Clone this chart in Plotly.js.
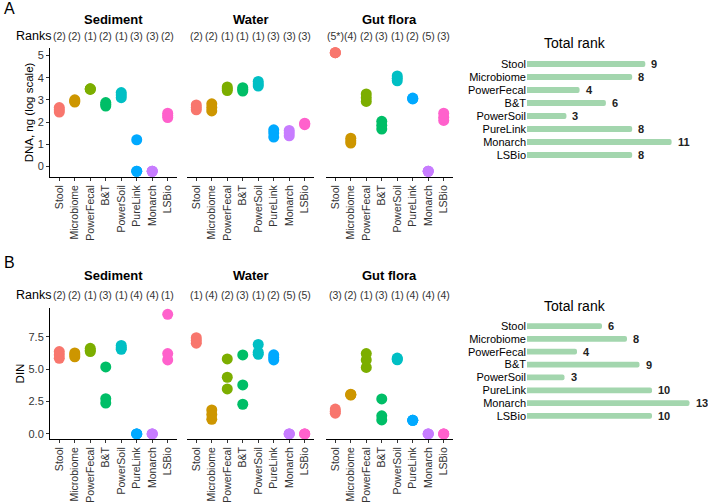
<!DOCTYPE html>
<html><head><meta charset="utf-8">
<script src="https://cdn.plot.ly/plotly-3.0.1.min.js"></script>
<style>html,body{margin:0;padding:0;background:#fff}</style>
</head><body><div id="chart" style="width:708px;height:502px"></div>
<script>
const methods = ['Stool','Microbiome','PowerFecal','B&T','PowerSoil','PureLink','Monarch','LSBio'];
const palette = ['#F8766D','#CD9600','#7CAE00','#00BE67','#00BFC4','#00A9FF','#C77CFF','#FF61CC'];
const environments = ['Sediment','Water','Gut flora'];

// Panel A: DNA, ng (log scale) — replicate values per method
const dnaSediment = [[2.45,2.55,2.65],[2.9,2.95,3.0],[3.47,3.5,3.5],[2.72,2.8,2.88],[3.1,3.22,3.33],[1.2,-0.22,-0.22],[-0.22,-0.22,-0.22],[2.2,2.3,2.4]];
const dnaWater    = [[2.55,2.65,2.77],[2.5,2.65,2.82],[3.42,3.5,3.58],[3.4,3.48,3.55],[3.62,3.72,3.83],[1.32,1.5,1.65],[1.38,1.5,1.62],[1.88,1.92,1.95]];
const dnaGut      = [[5.13,5.13,5.13],[1.05,1.15,1.27],[2.93,3.1,3.27],[1.68,1.85,2.03],[3.86,3.97,4.08],[3.04,3.06,3.08],[-0.22,-0.22,-0.22],[2.07,2.22,2.4]];

// Panel B: DIN
const dinSediment = [[5.83,6.1,6.35],[5.95,6.1,6.25],[6.35,6.45,6.6],[2.38,2.72,5.17],[6.53,6.65,6.82],[0,0,0],[0,0,0],[5.71,6.2,9.22]];
const dinWater    = [[7.0,7.2,7.42],[1.13,1.5,1.85],[3.47,4.37,5.78],[2.29,3.78,6.09],[6.14,6.3,6.9],[5.71,5.9,6.1],[0,0,0],[0,0,0]];
const dinGut      = [[1.6,1.75,1.92],[3.0,3.03,3.06],[5.13,5.7,6.2],[1.08,1.4,2.7],[5.72,5.78,5.85],[1.05,1.05,1.05],[0,0,0],[0,0,0]];

const ranksDnaSediment = ['(2)','(2)','(1)','(2)','(1)','(3)','(3)','(2)'];
const ranksDnaWater    = ['(2)','(2)','(1)','(1)','(1)','(3)','(3)','(3)'];
const ranksDnaGut      = ['(5*)','(4)','(2)','(3)','(1)','(2)','(5)','(3)'];
const ranksDinSediment = ['(2)','(2)','(1)','(3)','(1)','(4)','(4)','(1)'];
const ranksDinWater    = ['(1)','(4)','(2)','(3)','(1)','(2)','(5)','(5)'];
const ranksDinGut      = ['(3)','(2)','(1)','(3)','(1)','(4)','(4)','(4)'];

const totalRankDna = [9,8,4,6,3,8,11,8];
const totalRankDin = [6,8,4,9,3,10,13,10];

const yTicksDna = [0,1,2,3,4,5];
const yTicksDin = [0,2.5,5,7.5];
const yTickTextDin = ['0.0','2.5','5.0','7.5'];

// ---------- layout helpers ----------
const W = 708, H = 502;
const px = v => v / W;
const py = v => 1 - v / H;
const FONT = 'Liberation Sans, Arial, Helvetica, sans-serif';
const TXT = '#333333';

const panelX = [[50,177],[187,314],[326,453]];
const rows = [
  {tag:'A', tagY:9, titleY:20, rankY:36, dom:[48,177], range:[-0.48,5.34],
   data:[dnaSediment,dnaWater,dnaGut], ranks:[ranksDnaSediment,ranksDnaWater,ranksDnaGut],
   ytitle:'DNA, ng (log scale)', tickvals:yTicksDna, ticktext:yTicksDna.map(String),
   total:totalRankDna, barDom:[57.5,161.5], barRange:[0,13.16], totalTitleY:43},
  {tag:'B', tagY:262, titleY:275, rankY:295, dom:[308,439], range:[-0.39,9.71],
   data:[dinSediment,dinWater,dinGut], ranks:[ranksDinSediment,ranksDinWater,ranksDinGut],
   ytitle:'DIN', tickvals:yTicksDin, ticktext:yTickTextDin,
   total:totalRankDin, barDom:[319.6,422.4], barRange:[0,13.84], totalTitleY:306}
];

const traces = [];
const layout = {
  width: W, height: H,
  margin: {l:0, r:0, t:0, b:0},
  paper_bgcolor: '#fff', plot_bgcolor: '#fff',
  showlegend: false,
  font: {family: FONT, size: 11, color: TXT},
  annotations: []
};

let axisN = 0;
rows.forEach((row, r) => {
  for (let p = 0; p < 3; p++) {
    axisN++;
    const xk = 'xaxis' + (axisN === 1 ? '' : axisN);
    const yk = 'yaxis' + (axisN === 1 ? '' : axisN);
    const xr = 'x' + (axisN === 1 ? '' : axisN);
    const yr = 'y' + (axisN === 1 ? '' : axisN);
    layout[xk] = {
      domain: [px(panelX[p][0]), px(panelX[p][1])],
      range: [-0.6, 7.6], anchor: yr,
      tickmode: 'array', tickvals: methods.map((m,i)=>i), ticktext: methods,
      tickangle: -90, ticks: 'outside', ticklen: 3, tickcolor: '#333',
      showline: true, linecolor: '#000', linewidth: 1,
      showgrid: false, zeroline: false, fixedrange: true,
      tickfont: {family: FONT, size: 10.5, color: TXT}
    };
    const ya = {
      domain: [py(row.dom[1]), py(row.dom[0])],
      range: row.range, anchor: xr,
      showgrid: false, zeroline: false, fixedrange: true
    };
    if (p === 0) {
      Object.assign(ya, {
        tickmode: 'array', tickvals: row.tickvals, ticktext: row.ticktext,
        ticks: 'outside', ticklen: 3, tickcolor: '#333',
        showline: true, linecolor: '#000', linewidth: 1,
        tickfont: {family: FONT, size: 11, color: TXT},
        title: {text: row.ytitle, font: {family: FONT, size: 11.5, color: '#000'}, standoff: 1}
      });
    } else {
      Object.assign(ya, {visible: false});
    }
    layout[yk] = ya;

    // points
    row.data[p].forEach((vals, i) => {
      traces.push({
        type: 'scatter', mode: 'markers', xaxis: xr, yaxis: yr,
        x: vals.map(() => i), y: vals,
        marker: {color: palette[i], size: 11, line: {width: 0}},
        cliponaxis: false, hoverinfo: 'skip'
      });
    });

    // panel title
    layout.annotations.push({
      xref: xr, yref: 'paper', x: 3.5, y: py(row.titleY),
      text: '<b>' + environments[p] + '</b>', showarrow: false,
      xanchor: 'center', yanchor: 'middle',
      font: {family: FONT, size: 13, color: '#000'}
    });
    // ranks
    row.ranks[p].forEach((t, i) => {
      layout.annotations.push({
        xref: xr, yref: 'paper', x: i, y: py(row.rankY),
        text: t, showarrow: false, xanchor: 'center', yanchor: 'middle',
        font: {family: FONT, size: 10.5, color: TXT}
      });
    });
  }
  // "Ranks" label and tag
  layout.annotations.push({
    xref: 'paper', yref: 'paper', x: px(14), y: py(row.rankY),
    text: 'Ranks', showarrow: false, xanchor: 'left', yanchor: 'middle',
    font: {family: FONT, size: 12.5, color: '#000'}
  });
  layout.annotations.push({
    xref: 'paper', yref: 'paper', x: px(2), y: py(row.tagY),
    text: row.tag, showarrow: false, xanchor: 'left', yanchor: 'middle',
    font: {family: FONT, size: 16, color: '#000'}
  });

  // total rank bars
  axisN++;
  const xk = 'xaxis' + axisN, yk = 'yaxis' + axisN;
  const xr = 'x' + axisN, yr = 'y' + axisN;
  layout[xk] = {
    domain: [px(527), px(700)], range: row.barRange, anchor: yr,
    visible: false, fixedrange: true
  };
  layout[yk] = {
    domain: [py(row.barDom[1]), py(row.barDom[0])], range: [7.5, -0.5], anchor: xr,
    tickmode: 'array', tickvals: methods.map((m,i)=>i), ticktext: methods,
    ticks: '', showline: false, showgrid: false, zeroline: false, fixedrange: true,
    tickfont: {family: FONT, size: 11, color: '#000'}
  };
  traces.push({
    type: 'bar', orientation: 'h', xaxis: xr, yaxis: yr,
    x: row.total, y: methods.map((m,i)=>i), width: 0.45,
    marker: {color: '#a3d6ae', cornerradius: 3, line: {width: 0}},
    hoverinfo: 'skip'
  });
  row.total.forEach((v, i) => {
    layout.annotations.push({
      xref: xr, yref: yr, x: v, y: i, text: '<b>' + v + '</b>',
      showarrow: false, xanchor: 'left', yanchor: 'middle', xshift: 4,
      font: {family: FONT, size: 11, color: '#222'}
    });
  });
  layout.annotations.push({
    xref: 'paper', yref: 'paper', x: px(575), y: py(row.totalTitleY),
    text: 'Total rank', showarrow: false, xanchor: 'center', yanchor: 'middle',
    font: {family: FONT, size: 14, color: '#000'}
  });
});

Plotly.newPlot('chart', traces, layout, {staticPlot: true, displayModeBar: false});
</script>
</body></html>
